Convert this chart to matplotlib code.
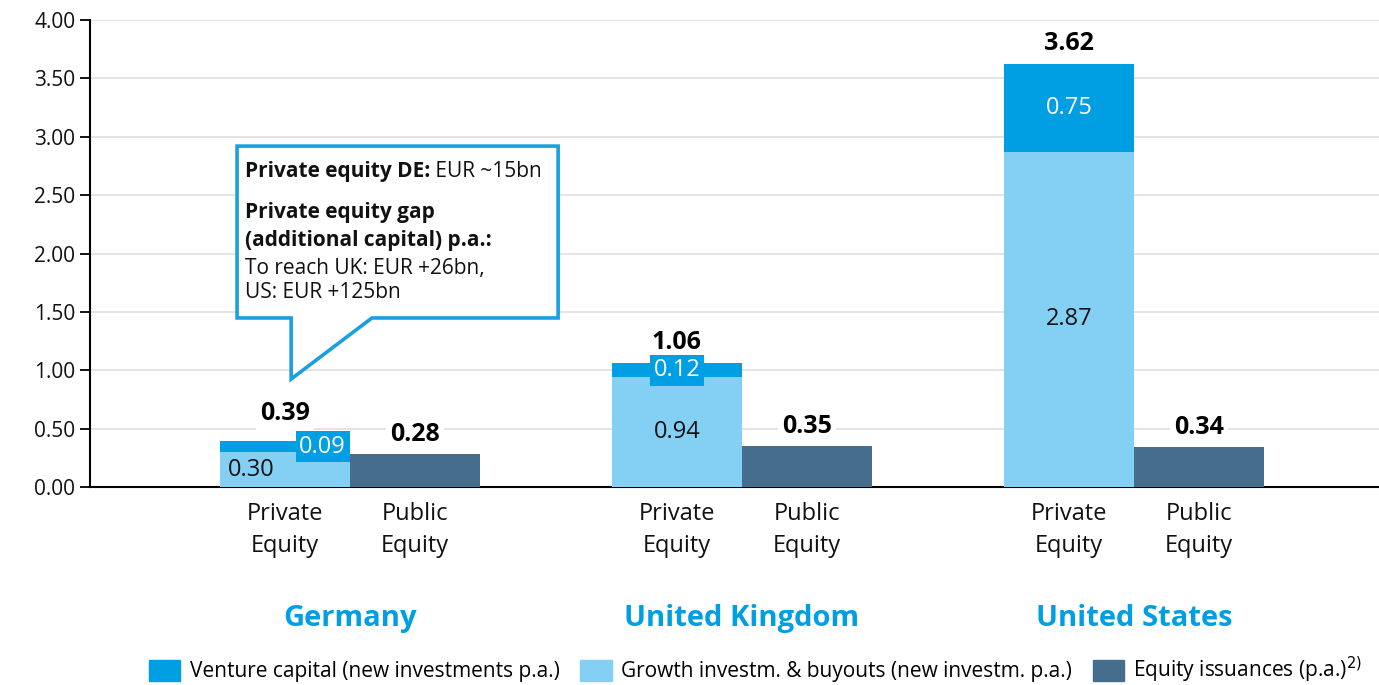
import numpy as np
import matplotlib.pyplot as plt
from matplotlib.patches import Polygon, Patch

plt.rcParams['font.family'] = ['Open Sans', 'DejaVu Sans']

# data (EUR trillion)
countries = ['Germany', 'United Kingdom', 'United States']
growth = [0.30, 0.94, 2.87]      # growth investm. & buyouts
venture = [0.09, 0.12, 0.75]     # venture capital
public = [0.28, 0.35, 0.34]      # equity issuances
pe_total = [0.39, 1.06, 3.62]
tick_names = ['Private\nEquity', 'Public\nEquity']
legend_names = ['Venture capital (new investments p.a.)',
                'Growth investm. & buyouts (new investm. p.a.)',
                'Equity issuances (p.a.)$^{2)}$']

c_vc = '#009FE3'
c_gr = '#84D0F5'
c_pub = '#476D8D'
c_txt = '#111111'

fig = plt.figure(figsize=(13.79, 6.85), dpi=100)
ax = fig.add_axes([0.0653, 0.289, 0.9347, 0.6818])

x = np.arange(len(countries))
w = 0.332
x_pe = x - w / 2
x_pub = x + w / 2

ax.bar(x_pe, growth, width=w, color=c_gr, zorder=3)
ax.bar(x_pe, venture, width=w, bottom=growth, color=c_vc, zorder=3)
ax.bar(x_pub, public, width=w, color=c_pub, zorder=3)

ax.set_xlim(-0.663, 2.625)
ax.set_ylim(0, 4)
ax.set_yticks(np.arange(0, 4.01, 0.5))
ax.set_yticklabels([f'{v:.2f}' for v in np.arange(0, 4.01, 0.5)], fontsize=15, color=c_txt)
ax.tick_params(axis='y', length=7, width=1.3, direction='out')
ax.grid(axis='y', color='#E4E4E4', lw=1.4, zorder=0)
for s in ['top', 'right']:
    ax.spines[s].set_visible(False)
ax.spines['left'].set_linewidth(1.5)
ax.spines['bottom'].set_linewidth(1.5)

xt = np.concatenate([x_pe, x_pub])
ax.set_xticks(xt)
ax.set_xticklabels(tick_names[:1] * 3 + tick_names[1:] * 3, fontsize=17,
                   color=c_txt, linespacing=1.45)
ax.tick_params(axis='x', length=0, pad=11)

# group names
for i, name in enumerate(countries):
    ax.annotate(name, xy=(x[i], 0), xycoords=('data', 'axes fraction'),
                xytext=(0, -95), textcoords='offset points', ha='center', va='center',
                fontsize=21, fontweight='bold', color=c_vc)

# totals
for i in range(3):
    off = 20 if i == 0 else 15
    ax.annotate(f'{pe_total[i]:.2f}', xy=(x_pe[i], pe_total[i]), xytext=(0, off),
                textcoords='offset points', ha='center', va='center', fontsize=18,
                fontweight='bold', color='black', zorder=5,
                bbox=dict(boxstyle='square,pad=0.15', fc='white', ec='none'))
    ax.annotate(f'{public[i]:.2f}', xy=(x_pub[i], public[i]), xytext=(0, 14),
                textcoords='offset points', ha='center', va='center', fontsize=18,
                fontweight='bold', color='black', zorder=5,
                bbox=dict(boxstyle='square,pad=0.15', fc='white', ec='none'))

# inside labels
ax.text(x_pe[0] - w / 2 + 0.02, growth[0] / 2, f'{growth[0]:.2f}', ha='left', va='center',
        fontsize=17, color=c_txt, zorder=5)
ax.text(x_pe[0] + w / 2 - 0.01, growth[0] + venture[0] / 2, f'{venture[0]:.2f}',
        ha='right', va='center', fontsize=17, color='white', zorder=5,
        bbox=dict(boxstyle='square,pad=0.15', fc=c_vc, ec='none'))
ax.text(x_pe[1], growth[1] / 2, f'{growth[1]:.2f}', ha='center', va='center',
        fontsize=17, color=c_txt, zorder=5)
ax.text(x_pe[1], growth[1] + venture[1] / 2, f'{venture[1]:.2f}', ha='center', va='center',
        fontsize=17, color='white', zorder=5,
        bbox=dict(boxstyle='square,pad=0.15', fc=c_vc, ec='none'))
ax.text(x_pe[2], growth[2] / 2, f'{growth[2]:.2f}', ha='center', va='center',
        fontsize=17, color=c_txt, zorder=5)
ax.text(x_pe[2], growth[2] + venture[2] / 2, f'{venture[2]:.2f}', ha='center', va='center',
        fontsize=17, color='white', zorder=5)

# callout bubble
bubble = [(-0.288, 2.92), (0.531, 2.92), (0.531, 1.448), (0.056, 1.448),
          (-0.150, 0.925), (-0.150, 1.448), (-0.288, 1.448)]
ax.add_patch(Polygon(bubble, closed=True, fc='white', ec='#1AA0E0', lw=2.6, zorder=6,
                     joinstyle='miter'))
tx = -0.268
fs = 15
t1 = ax.text(tx, 2.70, 'Private equity DE:', fontsize=fs, fontweight='bold',
             va='center', ha='left', zorder=7, color=c_txt)
ax.annotate(' EUR ~15bn', xy=(1, 0.5), xycoords=t1, va='center', ha='left',
            fontsize=fs, zorder=7, color=c_txt)
ax.text(tx, 2.35, 'Private equity gap', fontsize=fs, fontweight='bold',
        va='center', ha='left', zorder=7, color=c_txt)
ax.text(tx, 2.11, '(additional capital) p.a.:', fontsize=fs, fontweight='bold',
        va='center', ha='left', zorder=7, color=c_txt)
ax.text(tx, 1.87, 'To reach UK: EUR +26bn,', fontsize=fs,
        va='center', ha='left', zorder=7, color=c_txt)
ax.text(tx, 1.665, 'US: EUR +125bn', fontsize=fs,
        va='center', ha='left', zorder=7, color=c_txt)

handles = [Patch(color=c_vc), Patch(color=c_gr), Patch(color=c_pub)]
fig.legend(handles, legend_names, loc='center', bbox_to_anchor=(0.548, 0.022), ncol=3,
           frameon=False, fontsize=15, handlelength=1.5, handleheight=1.2,
           handletextpad=0.45, columnspacing=1.0, borderaxespad=0)

plt.savefig('out.png', dpi=100)
